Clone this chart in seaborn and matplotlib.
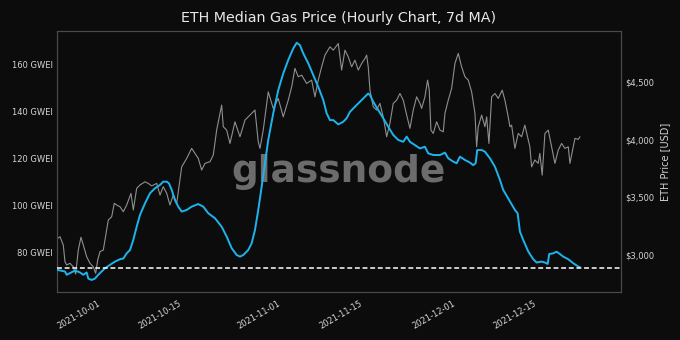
import numpy as np
import pandas as pd
import matplotlib
matplotlib.use("Agg")
import matplotlib.pyplot as plt
import matplotlib.dates as mdates
from matplotlib.ticker import FuncFormatter, FixedLocator
import seaborn as sns

# ---------------- data ----------------
BASE_DATE = "2021-10-01"
# gas price 7d MA  (days relative to 2021-10-01, GWEI)
gas_days = [-7.70, -6.33, -6.03, -5.47, -4.61, -3.75, -3.18, -2.60, -2.32, -1.74,
            -1.17, -0.60, -0.02, 0.55, 1.41, 2.27, 3.13, 3.70, 4.28, 4.85,
            5.42, 6.00, 6.57, 7.43, 8.29, 9.15, 10.01, 10.57, 11.16, 11.55,
            12.02, 12.58, 13.15, 13.74, 14.60, 15.45, 16.59, 17.45, 18.31, 19.46,
            20.61, 21.47, 22.33, 23.19, 23.76, 24.33, 25.18, 25.77, 26.34, 26.90,
            27.49, 28.06, 28.62, 29.48, 30.34, 31.20, 32.06, 32.92, 33.51, 34.07,
            34.64, 35.50, 36.36, 37.22, 38.08, 38.66, 39.23, 39.80, 40.66, 41.52,
            42.10, 42.67, 43.53, 44.39, 45.25, 45.81, 46.11, 46.67, 47.53, 48.39,
            49.25, 50.11, 50.97, 51.83, 52.42, 52.98, 53.84, 54.70, 55.56, 56.13,
            56.99, 58.14, 59.00, 59.57, 60.43, 61.01, 61.58, 62.44, 63.30, 63.86,
            64.28, 64.55, 65.31, 65.88, 66.74, 67.60, 68.46, 69.02, 70.17, 71.03,
            71.50, 71.89, 72.46, 73.32, 74.18, 74.76, 75.62, 76.19, 76.66, 76.93,
            77.62, 78.20, 78.77, 79.34, 80.20, 81.06, 81.92, 82.21]
gas_gwei = [72.7, 72.0, 70.6, 71.3, 72.4, 71.6, 70.6, 71.6, 69.0, 68.4,
            69.0, 70.6, 72.0, 73.4, 74.8, 76.2, 77.2, 77.5, 79.7, 81.1,
            85.4, 91.0, 96.0, 100.9, 105.2, 107.3, 108.7, 110.1, 110.1, 109.4,
            106.6, 102.3, 99.5, 97.4, 98.1, 99.5, 100.6, 99.5, 96.7, 94.6,
            91.0, 86.8, 81.9, 79.0, 78.3, 79.0, 81.1, 84.0, 89.6, 98.1,
            108.0, 117.9, 127.8, 139.1, 148.9, 156.0, 161.7, 166.6, 169.0, 168.0,
            164.5, 160.3, 155.3, 150.3, 144.7, 139.1, 136.2, 136.2, 134.4, 135.5,
            137.0, 139.7, 141.9, 144.0, 146.1, 147.5, 146.8, 144.0, 140.5, 137.0,
            133.4, 129.9, 127.8, 127.0, 129.2, 127.0, 125.6, 124.2, 124.9, 122.1,
            121.4, 121.4, 122.4, 120.0, 118.6, 117.9, 120.7, 119.3, 118.2, 117.1,
            117.9, 123.5, 123.5, 122.8, 120.0, 116.4, 110.8, 106.6, 101.7, 98.1,
            96.7, 88.9, 85.4, 80.5, 77.2, 75.8, 76.2, 75.8, 75.2, 79.4,
            79.7, 80.4, 79.4, 78.3, 77.2, 75.5, 74.1, 73.8]

# ETH price (days relative to 2021-10-01, USD)
eth_days = [-7.58, -7.19, -6.62, -6.33, -6.03, -5.47, -4.90, -4.49, -4.04, -3.58,
            -3.18, -2.60, -2.03, -1.46, -1.05, -0.70, -0.31, 0.26, 0.84, 1.12,
            1.70, 2.15, 2.56, 3.13, 3.70, 4.28, 5.02, 5.42, 6.00, 6.57,
            7.43, 7.99, 8.58, 9.44, 10.01, 10.57, 11.16, 11.72, 12.29, 12.88,
            13.44, 13.74, 14.60, 15.45, 16.02, 16.59, 17.17, 17.74, 18.60, 19.17,
            19.75, 20.15, 20.61, 20.89, 21.47, 22.04, 22.90, 23.76, 24.62, 25.48,
            26.34, 26.90, 27.20, 27.76, 28.62, 29.48, 30.34, 31.20, 32.06, 32.65,
            33.21, 33.78, 34.37, 35.22, 36.08, 36.65, 37.22, 37.80, 38.37, 39.23,
            39.80, 40.66, 41.24, 41.81, 42.38, 42.96, 43.53, 44.10, 44.68, 45.25,
            45.54, 45.81, 46.11, 46.67, 47.26, 47.82, 48.39, 48.98, 49.54, 50.11,
            50.70, 51.26, 51.83, 52.42, 52.98, 53.55, 54.13, 54.70, 54.99, 55.56,
            56.02, 56.30, 56.59, 56.99, 57.57, 58.14, 58.71, 59.00, 59.57, 60.15,
            60.72, 61.29, 61.87, 62.44, 63.01, 63.59, 64.16, 64.45, 64.73, 65.31,
            65.88, 66.17, 66.56, 67.03, 67.60, 68.16, 68.85, 69.31, 69.88, 70.17,
            70.46, 71.03, 71.60, 72.18, 72.74, 73.21, 73.60, 73.90, 74.46, 75.03,
            75.32, 75.72, 76.19, 76.76, 77.34, 77.91, 78.48, 79.06, 79.63, 80.20,
            80.49, 81.06, 81.35, 81.92, 82.21]
eth_usd = [3145, 3159, 3087, 2942, 2913, 2928, 2898, 2835, 3043, 3154,
           3087, 2985, 2928, 2898, 2841, 2957, 3029, 3043, 3217, 3304,
           3332, 3449, 3434, 3419, 3376, 3434, 3535, 3391, 3579, 3608,
           3636, 3622, 3600, 3622, 3521, 3593, 3536, 3434, 3521, 3449,
           3651, 3766, 3839, 3926, 3883, 3839, 3738, 3796, 3810, 3868,
           4085, 4187, 4302, 4114, 4085, 3969, 4157, 4027, 4172, 4215,
           4259, 3983, 3926, 4085, 4417, 4273, 4360, 4200, 4345, 4461,
           4621, 4548, 4562, 4490, 4519, 4374, 4519, 4634, 4736, 4808,
           4779, 4837, 4606, 4779, 4721, 4634, 4692, 4606, 4664, 4707,
           4736, 4634, 4432, 4287, 4259, 4317, 4200, 4027, 4143, 4317,
           4345, 4403, 4345, 4215, 4100, 4259, 4374, 4317, 4273, 4374,
           4519, 4432, 4085, 4056, 4157, 4085, 4070, 4230, 4345, 4447,
           4664, 4751, 4634, 4548, 4519, 4417, 4230, 3940, 4114, 4215,
           4114, 4200, 3969, 4374, 4403, 4360, 4432, 4345, 4200, 4114,
           4128, 3926, 4056, 4027, 4128, 4027, 3940, 3766, 3825, 3796,
           3883, 3694, 4056, 4085, 3940, 3796, 3911, 3969, 3926, 3940,
           3796, 3940, 4013, 4004, 4027]

baseline_gwei = 73.6
gas_ticks = [80, 100, 120, 140, 160]
usd_ticks = [3000, 3500, 4000, 4500]
date_ticks = ["2021-10-01", "2021-10-15", "2021-11-01", "2021-11-15", "2021-12-01", "2021-12-15"]
x_range_days = [-7.70, 89.27]

title = "ETH Median Gas Price (Hourly Chart, 7d MA)"
right_label = "ETH Price [USD]"
watermark = "glassnode"

# ---------------- build frames ----------------
base = pd.Timestamp(BASE_DATE)
gas_df = pd.DataFrame({"t": base + pd.to_timedelta(gas_days, unit="D"), "gas": gas_gwei})
eth_df = pd.DataFrame({"t": base + pd.to_timedelta(eth_days, unit="D"), "usd": eth_usd})

# ---------------- style ----------------
BG = "#0c0c0c"
TXT = "#d4d4d4"
SPINE = "#4a4a4a"
sns.set_theme(style="dark")
plt.rcParams.update({
    "figure.facecolor": BG,
    "axes.facecolor": BG,
    "savefig.facecolor": BG,
    "axes.edgecolor": SPINE,
    "text.color": TXT,
    "xtick.color": TXT,
    "ytick.color": TXT,
    "axes.labelcolor": TXT,
})
plt.rcParams["font.family"] = ["DejaVu Sans"]

fig = plt.figure(figsize=(6.8, 3.4), dpi=100)
ax = fig.add_axes([57 / 680, 48 / 340, 564 / 680, 261 / 340])
ax2 = ax.twinx()

# price axis sits below gas axis
ax.set_zorder(ax2.get_zorder() + 1)
ax.patch.set_visible(False)
ax2.patch.set_visible(True)
ax2.patch.set_facecolor(BG)

ax2.text(0.5, 0.423, watermark, transform=ax2.transAxes, ha="center", va="baseline",
         fontsize=27, fontweight="bold", color="#6c6c6c", zorder=0)

sns.lineplot(data=eth_df, x="t", y="usd", ax=ax2, color="#8f8f8f", linewidth=0.8,
             estimator=None, sort=False, zorder=2)
sns.lineplot(data=gas_df, x="t", y="gas", ax=ax, color="#1db4ee", linewidth=1.4,
             estimator=None, sort=False, zorder=3)
ax.axhline(baseline_gwei, color="white", linewidth=1.1, linestyle=(0, (3.2, 1.8)), zorder=4)

# limits
ax.set_xlim(base + pd.Timedelta(days=x_range_days[0]), base + pd.Timedelta(days=x_range_days[1]))
ax.set_ylim(63.3, 174.0)
ax2.set_ylim(2678.6, 4945.6)

# ticks
ax.xaxis.set_major_locator(FixedLocator(mdates.date2num(pd.to_datetime(date_ticks))))
ax.xaxis.set_major_formatter(mdates.DateFormatter("%Y-%m-%d"))
ax.set_yticks(gas_ticks)
ax.yaxis.set_major_formatter(FuncFormatter(lambda v, p: f"{v:.0f} GWEI"))
ax2.set_yticks(usd_ticks)
ax2.yaxis.set_major_formatter(FuncFormatter(lambda v, p: f"${v:,.0f}"))

for a in (ax, ax2):
    a.grid(False)
    a.set_xlabel("")
    for s in a.spines.values():
        s.set_color(SPINE)
        s.set_linewidth(0.8)
ax.set_ylabel("")
ax.tick_params(axis="y", length=0, pad=3, labelsize=6, colors=TXT)
ax.tick_params(axis="x", length=0, pad=5, labelsize=6, colors=TXT)
ax2.tick_params(axis="y", length=0, pad=3, labelsize=6, colors=TXT)
for lbl in ax.get_xticklabels():
    lbl.set_rotation(30)
    lbl.set_ha("right")
ax2.set_ylabel(right_label, fontsize=7, color=TXT, labelpad=4)

fig.text(339 / 680, 1 - 18 / 340, title, ha="center", va="center", fontsize=10.3, color="#e8e8e8")

fig.savefig("out.png", dpi=100, facecolor=BG)
